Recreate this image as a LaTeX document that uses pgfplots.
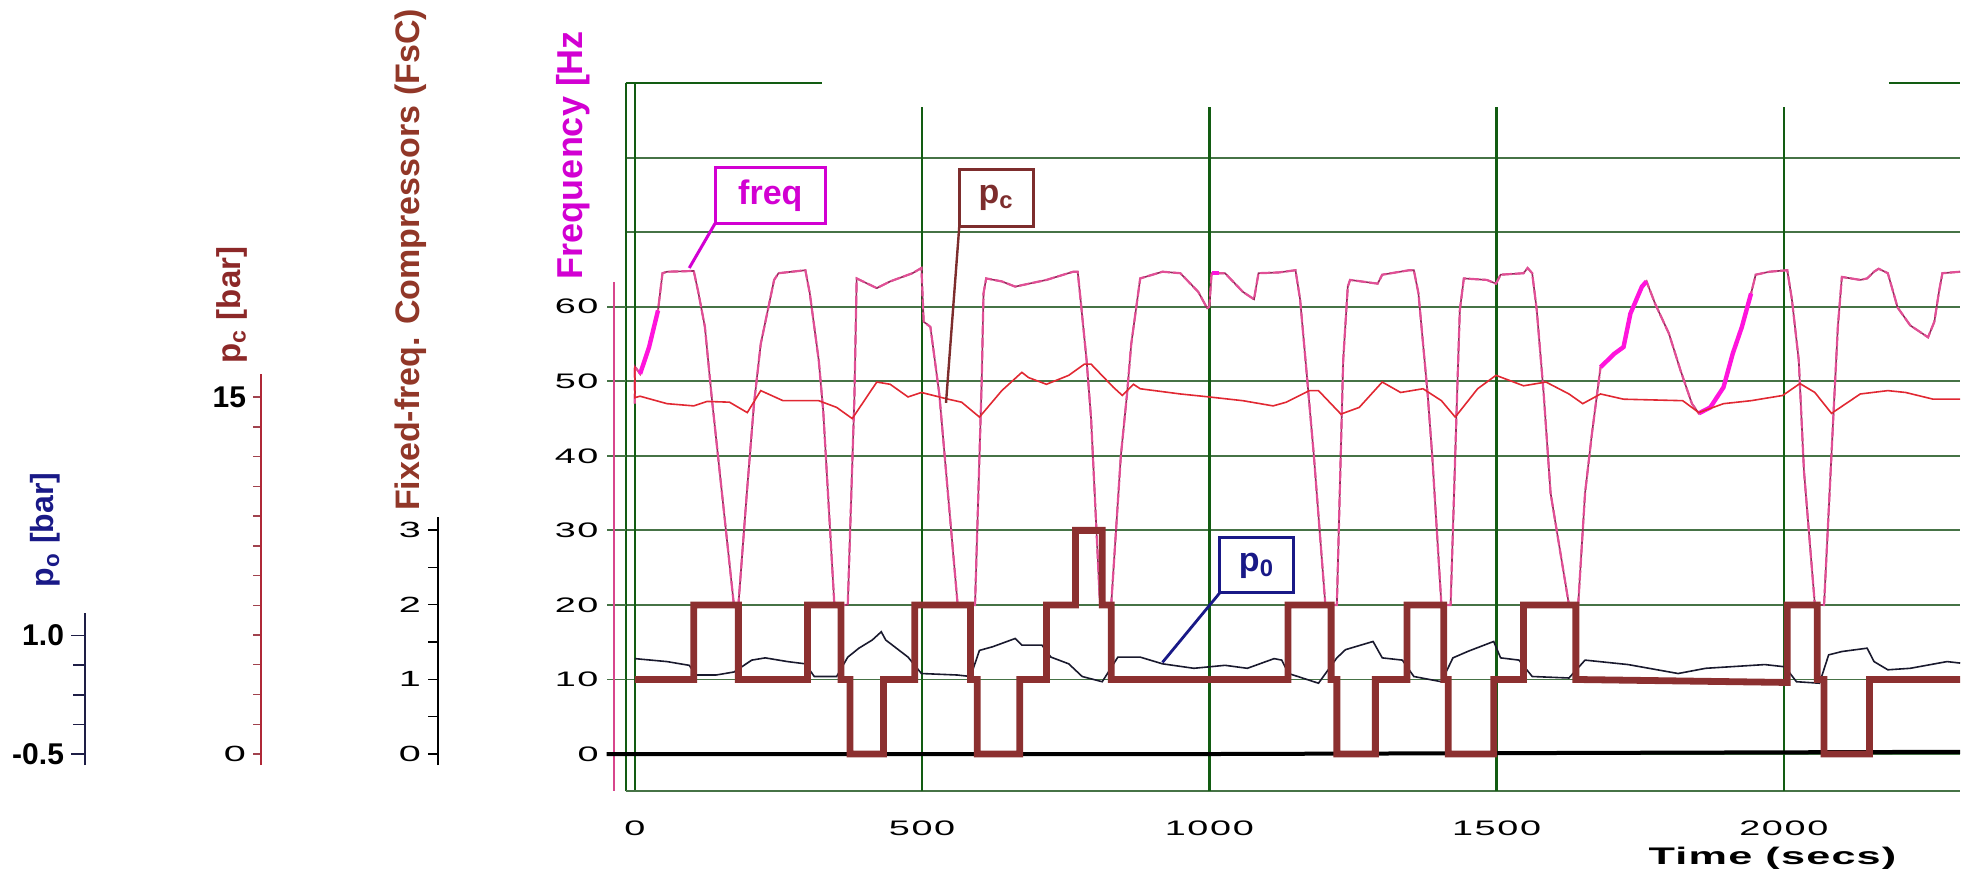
\documentclass[border=0pt]{standalone}
\usepackage{pgfplots}
\pgfplotsset{compat=1.18}
\usepackage{fontspec}
\setmainfont{Liberation Sans}
\newfontfamily\widefont[FakeStretch=1.8,LetterSpace=8]{Liberation Sans}
\newfontfamily\timefont[FakeStretch=1.8,LetterSpace=5]{Liberation Sans}
\definecolor{gridv}{RGB}{18,92,18}
\definecolor{gridh}{RGB}{70,115,70}
\definecolor{freqc}{RGB}{225,80,150}
\definecolor{freqd}{RGB}{150,40,90}
\definecolor{freqhi}{RGB}{255,20,220}
\definecolor{pcc}{RGB}{225,40,50}
\definecolor{poline}{RGB}{25,25,45}
\definecolor{stair}{RGB}{140,48,48}
\definecolor{pocol}{RGB}{25,25,135}
\definecolor{pclab}{RGB}{140,40,40}
\definecolor{fsclab}{RGB}{145,55,40}
\definecolor{freqlab}{RGB}{210,0,210}
\definecolor{pcbox}{RGB}{125,45,45}
\definecolor{poaxis}{RGB}{30,30,70}
\definecolor{pcaxis}{RGB}{175,40,55}
\definecolor{pinkaxis}{RGB}{215,70,140}
\pgfplotsset{auxaxis/.style={scale only axis, anchor=south west, width=1pt,
  xmin=0, xmax=1, hide x axis, axis y line*=left, y axis line style={-},
  tick align=outside, ytick pos=left, clip=false}}
\pgfplotstableread{
x y
0 47
0 52
9.3 51
24.9 54.6
40.4 59.5
48.2 64.5
56 64.7
102.6 64.8
110.4 62
122 57.3
133.7 48
172.5 20
180.3 20
195 35
207.5 47
219.2 55
242.5 63.6
250.2 64.5
296.9 64.9
304.6 61.8
320.2 52.8
328 46
347.4 20
370.7 20
382.3 48
386.2 63.8
421.2 62.5
444.5 63.4
483.4 64.5
498.9 65.2
502.8 58
514.5 57.3
530 48.3
545 35
562 20
592.2 20
603.8 50
607 61.8
611.6 63.8
638.8 63.4
662.1 62.7
716.5 63.6
763.1 64.7
770.9 64.7
774.8 61.8
786.4 52.8
794.2 45
809.8 20
829.2 20
846 40
856.4 48
864.1 55
879.7 63.8
918.5 64.7
949.6 64.5
980.7 62
996.3 59.8
1000 60
1004 64.5
1027.3 64.5
1058.4 62
1077.8 61
1085.6 64.5
1120.6 64.6
1150 64.9
1158 61
1170 50.6
1182 40
1202 20
1222 20
1233 52.8
1241 62.7
1245 63.6
1293 63.1
1301 64.3
1348 64.9
1356 64.9
1364 61.8
1380 48.3
1388 40
1404 20
1420 20
1432 50
1436 59.5
1443 63.8
1483 63.6
1499 63.1
1507 64.3
1547 64.5
1554 65.2
1562 64.5
1570 59.5
1582 48.3
1594 35
1626 20
1642 20
1654 35
1666 43
1681 51.9
1705 53.7
1721 54.6
1733 59.1
1753 62.7
1761 63.4
1776 60.4
1800 56.4
1820 51.5
1840 47
1852 45.7
1872 46.5
1895 49.2
1911 53.7
1927 57.3
1943 61.8
1951 64.3
1975 64.7
2006 64.9
2014 61
2026 52.8
2035 38
2054 20
2070 20
2086 45
2094 57.3
2101 64
2133 63.6
2145 63.8
2157 64.7
2165 65.1
2181 64.5
2198 59.9
2220 57.5
2251 55.9
2262 58
2270 62
2276 64.5
2307 64.7
}\freqtable
\begin{document}
\begin{tikzpicture}[x=1pt,y=1pt]
\useasboundingbox (0,0) rectangle (982,437);
% p_o axis
\begin{axis}[auxaxis, at={(42.5pt,54.5pt)}, height=76pt,
  ymin=-0.639, ymax=1.285,
  ytick={-0.5,1}, yticklabels={-0.5,1.0}, minor ytick={-0.125,0.25,0.625},
  axis line style={color=poaxis, line width=1.1pt},
  major tick length=7pt, minor tick length=6pt,
  every tick/.style={color=poaxis, line width=0.8pt},
  yticklabel style={font=\bfseries\fontsize{15}{15}\selectfont, text=black}]
\addplot[draw=none] coordinates {(0,0)};
\end{axis}
% p_c axis
\begin{axis}[auxaxis, at={(130.5pt,54.5pt)}, height=195.5pt,
  ymin=-0.462, ymax=15.97,
  ytick={0,15}, yticklabels={{\widefont\fontsize{11}{12}\selectfont 0},{\bfseries\fontsize{15}{15}\selectfont 15}},
  minor ytick={1.25,2.5,...,13.75},
  axis line style={color=pcaxis, line width=1.1pt},
  major tick length=4pt, minor tick length=4pt,
  every tick/.style={color=pcaxis!70!gray, line width=0.7pt},
  yticklabel style={text=black}]
\addplot[draw=none] coordinates {(0,0)};
\end{axis}
% FsC axis
\begin{axis}[auxaxis, at={(219pt,54.5pt)}, height=124pt,
  ymin=-0.147, ymax=3.174,
  ytick={0,1,2,3}, yticklabels={0,1,2,3}, minor ytick={0.5,1.5,2.5},
  axis line style={color=black, line width=1.1pt},
  major tick length=5pt, minor tick length=5pt,
  every tick/.style={color=black, line width=0.7pt},
  yticklabel style={font=\widefont\fontsize{11}{12}\selectfont, text=black}]
\addplot[draw=none] coordinates {(0,0)};
\end{axis}
% main axis
\begin{axis}[at={(312.8pt,41.35pt)}, anchor=south west,
  scale only axis, width=667.3pt, height=354.1pt,
  xmin=-16, xmax=2307, ymin=-5, ymax=90,
  clip=false, axis line style={draw=none},
  xtick={0,500,1000,1500,2000}, xticklabels={0,500,1000,1500,2000},
  ytick={0,10,20,30,40,50,60,70,80}, yticklabels={0,10,20,30,40,50,60,{},{}},
  major tick length=0pt, minor tick length=0pt,
  ymajorgrids, grid style={color=gridh, line width=0.9pt},
  xticklabel style={font=\widefont\fontsize{10.5}{12}\selectfont, yshift=-11pt},
  yticklabel style={font=\widefont\fontsize{10.5}{12}\selectfont, xshift=-10pt}]
% frame pieces and vertical grid
\draw[gridv, line width=1.1pt] (axis cs:-16,-5) -- (axis cs:-16,90);
\draw[gridv, line width=1.1pt] (axis cs:0,-5) -- (axis cs:0,90);
\draw[gridh, line width=1pt] (axis cs:-16,-5) -- (axis cs:2307,-5);
\draw[gridv, line width=1pt] (axis cs:-16,90) -- (axis cs:325,90);
\draw[gridv, line width=1pt] (axis cs:2183,90) -- (axis cs:2307,90);
\foreach \xv in {500,1000,1500,2000} {
  \edef\tmp{\noexpand\draw[gridv, line width=1.2pt] (axis cs:\xv,-5) -- (axis cs:\xv,86.8);}\tmp
}
\foreach \yv in {10,20,30,40,50,60} {
  \edef\tmp{\noexpand\draw[gridh, line width=0.9pt] (axis cs:-48,\yv) -- (axis cs:-16,\yv);}\tmp
}
\draw[pinkaxis, line width=1.2pt] (axis cs:-36,63.3) -- (axis cs:-36,-5);
% frequency (dark core with pink dashes on top)
\addplot[freqd, line width=0.8pt] table {\freqtable};
\addplot[freqc, line width=1.1pt, dash pattern=on 5pt off 1.5pt] table {\freqtable};
\addplot[freqhi, line width=2.2pt] coordinates {(9.3,51) (24.9,54.6) (40.4,59.5)};
\addplot[freqhi, line width=2.2pt] coordinates {(1004,64.5) (1016,64.5)};
\addplot[freqhi, line width=2.2pt] coordinates {(1681,51.9) (1705,53.7) (1721,54.6) (1733,59.1) (1753,62.7) (1761,63.4)};
\addplot[freqhi, line width=2.2pt] coordinates {(1852,45.7) (1872,46.5) (1895,49.2) (1911,53.7) (1927,57.3) (1943,61.8)};
% p_c
\addplot[pcc, line width=0.8pt] coordinates {
(0,52) (0,47.8) (9,48) (56,47) (102.6,46.7) (125.9,47.3) (164.8,47.2) (195.8,45.8) (219.2,48.75) (258,47.4)
(320.2,47.4) (351.3,46.5) (378.5,45) (421.2,49.9) (444.5,49.6) (475.6,47.9) (498.9,48.5) (545.5,47.6) (568.8,47.2)
(599.9,45.2) (638.8,48.75) (673.7,51.2) (685.4,50.5) (716.5,49.6) (755.3,50.8) (782.5,52.3) (794.2,52.3) (833,49.2)
(848.6,48.1) (868,49.6) (879.7,49) (949.6,48.3) (1000,47.9) (1058.4,47.4) (1111,46.7) (1134,47.2) (1174,48.75)
(1190,48.75) (1229,45.6) (1261,46.5) (1301,49.9) (1333,48.5) (1372,49) (1404,47.4) (1428,45.2) (1467,49) (1499,50.8)
(1547,49.4) (1586,49.9) (1626,48.3) (1650,47) (1681,48.3) (1721,47.6) (1824,47.4) (1852,45.8) (1895,47) (1943,47.4)
(1998,48.1) (2028,49.7) (2054,48.5) (2083,45.7) (2133,48.3) (2181,48.75) (2212,48.5) (2260,47.6) (2307,47.6)};
% p_0
\addplot[poline, line width=0.8pt] coordinates {
(0,12.8) (56,12.4) (94.8,11.9) (106.5,10.6) (141.4,10.6) (172.5,11) (203.6,12.6) (227,12.9) (265.8,12.4) (296.9,12.1)
(312.4,10.4) (351.3,10.4) (370.7,13) (390.1,14.2) (413.4,15.3) (429,16.4) (436.7,15.3) (475.6,13) (498.9,10.8)
(561.1,10.6) (584.4,10.4) (599.9,13.9) (623.2,14.4) (662.1,15.5) (673.7,14.6) (708.7,14.6) (724.3,13) (755.3,12.1)
(778.7,10.4) (813.6,9.7) (840.8,13) (879.7,13) (918.5,12.1) (973,11.5) (1027.3,11.9) (1066.2,11.5) (1112.8,12.8)
(1126,12.6) (1138,10.8) (1190,9.5) (1222,12.9) (1237,14) (1285,15.1) (1301,12.9) (1336,12.6) (1356,10.4) (1404,9.7)
(1424,12.9) (1451,13.8) (1495,15.1) (1507,12.9) (1539,12.6) (1562,10.4) (1626,10.2) (1654,12.6) (1729,12) (1816,10.8)
(1864,11.5) (1967,12) (2002,11.7) (2022,9.7) (2062,9.5) (2078,13.3) (2101,13.75) (2145,14.2) (2157,12.4) (2181,11.3)
(2220,11.5) (2284,12.4) (2307,12.2)};
% zero line
\addplot[black, line width=2pt] coordinates {(-49,0) (1000,0) (2307,0.3)};
% fixed-frequency compressors (x10)
\addplot[stair, line width=3.4pt, line join=miter] coordinates {
(0,10) (102.6,10) (102.6,20) (180.3,20) (180.3,10) (300.7,10) (300.7,20) (359,20) (359,10) (374.6,10) (374.6,0)
(432.9,0) (432.9,10) (487.2,10) (487.2,20) (584.4,20) (584.4,10) (596,10) (596,0) (669.9,0) (669.9,10) (716.5,10)
(716.5,20) (767,20) (767,30) (813.6,30) (813.6,20) (829.2,20) (829.2,10) (1137,10) (1137,20) (1212,20) (1212,10)
(1222,10) (1222,0) (1289,0) (1289,10) (1344,10) (1344,20) (1408,20) (1408,10) (1416,10) (1416,0) (1495,0) (1495,10)
(1547,10) (1547,20) (1638,20) (1638,10) (2006,9.6) (2006,20) (2058,20) (2058,10) (2070,10) (2070,0) (2149,0)
(2149,10) (2307,10)};
% annotations
\draw[freqlab, line width=1.5pt] (axis cs:139.9,71.2) -- (axis cs:94.8,65.2);
\node[draw=freqlab, fill=white, line width=1.5pt, minimum width=55pt, minimum height=28pt, inner sep=0pt,
  text=freqlab, font=\bfseries\fontsize{17}{17}\selectfont] at (axis cs:235.9,74.95) {freq};
\draw[pcbox, line width=1.2pt] (axis cs:565,71) -- (axis cs:541.7,47.1);
\node[draw=pcbox, fill=white, line width=1.5pt, minimum width=36.8pt, minimum height=28.5pt, inner sep=0pt,
  text=pcbox, font=\bfseries\fontsize{17}{17}\selectfont] at (axis cs:629.1,74.65) {p\textsubscript{c}};
\draw[pocol, line width=1.4pt] (axis cs:1018,21.6) -- (axis cs:918.5,12.3);
\node[draw=pocol, fill=white, line width=1.5pt, minimum width=36.8pt, minimum height=27.5pt, inner sep=0pt,
  text=pocol, font=\bfseries\fontsize{17}{17}\selectfont] at (axis cs:1082.1,25.3) {p\textsubscript{0}};
\end{axis}
% axis titles
\node[rotate=90, text=pocol, font=\bfseries\fontsize{16}{16}\selectfont] at (22.8,172) {p\textsubscript{o} [bar]};
\node[rotate=90, text=pclab, font=\bfseries\fontsize{16.5}{16.5}\selectfont] at (116,284.5) {p\textsubscript{c} [bar]};
\node[rotate=90, text=fsclab, font=\bfseries\fontsize{17}{17}\selectfont] at (205.5,307) {Fixed-freq. Compressors (FsC)};
\node[rotate=90, text=freqlab, font=\bfseries\fontsize{18}{18}\selectfont] at (286.5,359.5) {Frequency [Hz};
\node[font=\timefont\bfseries\fontsize{12}{12}\selectfont] at (886.25,8) {Time (secs)};
\end{tikzpicture}
\end{document}
